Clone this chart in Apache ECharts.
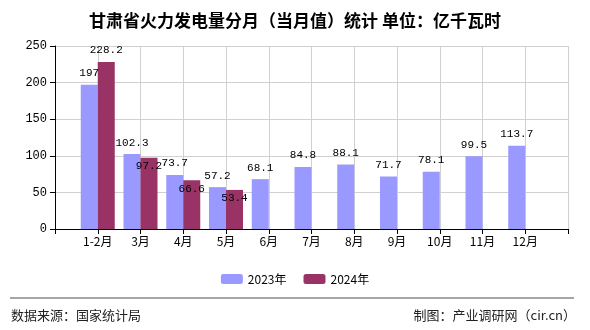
<!DOCTYPE html>
<html><head><meta charset="utf-8">
<script src="https://cdn.jsdelivr.net/npm/echarts@6/dist/echarts.min.js"></script>
<style>html,body{margin:0;padding:0;background:#fff}#c{width:590px;height:330px}</style>
</head><body><div id="c"></div>
<script>
const categories = ['1-2月','3月','4月','5月','6月','7月','8月','9月','10月','11月','12月'];
const values2023 = [197, 102.3, 73.7, 57.2, 68.1, 84.8, 88.1, 71.7, 78.1, 99.5, 113.7];
const values2024 = [228.2, 97.2, 66.6, 53.4];
const yTicks = [0, 50, 100, 150, 200, 250];
const seriesNames = ['2023年', '2024年'];

const cjk = '"Noto Sans CJK SC", sans-serif';
const mono = '"Liberation Mono", monospace';
const axisCats = [''].concat(categories, ['']);
function pad(arr) {
  const out = [null];
  for (let i = 0; i < categories.length; i++) out.push(i < arr.length ? arr[i] : null);
  out.push(null);
  return out;
}
const d2024 = pad(values2024).map((v, i) => {
  if (v == null) return null;
  if (i === 1) return v;
  return { value: v, label: { position: 'insideTop', distance: 3 } };
});

const chart = echarts.init(document.getElementById('c'), null, { renderer: 'canvas' });
chart.setOption({
  animation: false,
  backgroundColor: '#fff',
  title: {
    text: '甘肃省火力发电量分月（当月值）统计 单位：亿千瓦时',
    left: 'center', top: 7,
    textStyle: { fontFamily: cjk, fontSize: 17, fontWeight: 'bold', color: '#000' }
  },
  grid: { left: 55, right: 22, top: 46, bottom: 101 },
  legend: {
    data: seriesNames, top: 268, left: 'center',
    itemWidth: 22, itemHeight: 10, itemGap: 17,
    textStyle: { fontFamily: cjk, fontSize: 12, color: '#000' }
  },
  xAxis: {
    type: 'category', data: axisCats, boundaryGap: false,
    axisLine: { lineStyle: { color: '#000', width: 1 } },
    axisTick: { show: true, length: 5, lineStyle: { color: '#000' } },
    axisLabel: { interval: 0, fontFamily: cjk, fontSize: 12, color: '#000', margin: 6 },
    splitLine: { show: true, lineStyle: { color: '#d0d0d0' } }
  },
  yAxis: {
    type: 'value', min: yTicks[0], max: yTicks[yTicks.length - 1], interval: 50,
    axisLine: { show: true, lineStyle: { color: '#000' } },
    axisTick: { show: true, length: 5, lineStyle: { color: '#000' } },
    axisLabel: { fontFamily: mono, fontSize: 12, color: '#000', margin: 8 },
    splitLine: { lineStyle: { color: '#d0d0d0' } }
  },
  series: [
    {
      name: seriesNames[0], type: 'bar', data: pad(values2023), barWidth: 17, barGap: '0%',
      itemStyle: { color: '#9999FF' },
      label: { show: true, position: 'top', distance: 6, fontFamily: mono, fontSize: 11, color: '#000' }
    },
    {
      name: seriesNames[1], type: 'bar', data: d2024, barWidth: 17, barGap: '0%',
      itemStyle: { color: '#993366' },
      label: { show: true, position: 'top', distance: 6, fontFamily: mono, fontSize: 11, color: '#000' }
    }
  ],
  graphic: [
    { type: 'line', shape: { x1: 10, y1: 298, x2: 574, y2: 298 }, style: { stroke: '#888', lineWidth: 1.5 } },
    { type: 'text', left: 11, top: 309, style: { text: '数据来源：国家统计局', font: '13px "Noto Sans CJK SC"', fill: '#222' } },
    { type: 'text', right: 14, top: 309, style: { text: '制图：产业调研网（cir.cn）', font: '13px "Noto Sans CJK SC"', fill: '#222' } }
  ]
});
</script></body></html>
